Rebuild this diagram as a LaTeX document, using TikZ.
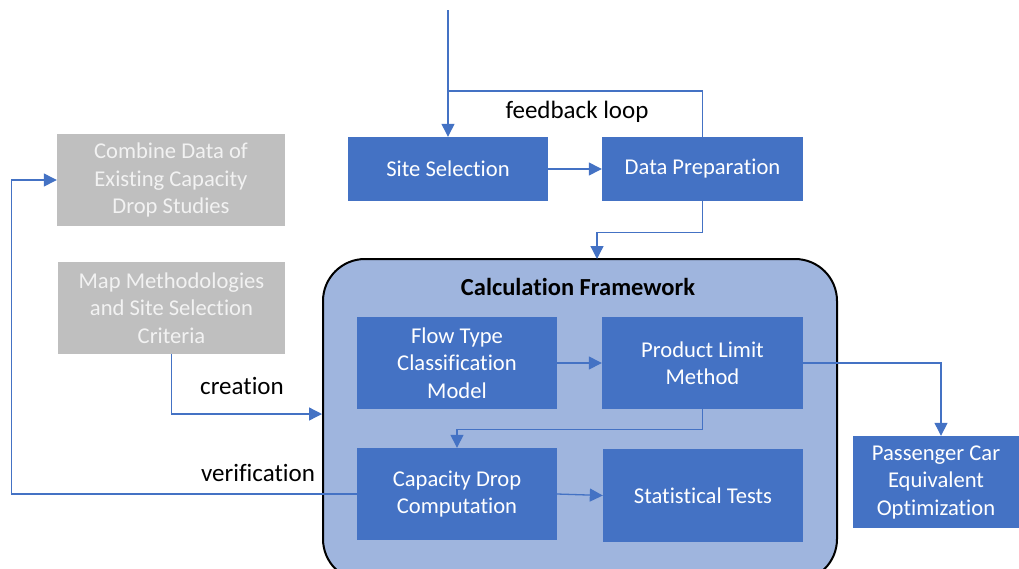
\documentclass[tikz,border=0pt]{standalone}
\usepackage{fontspec}
\setmainfont{Carlito}[Ligatures=NoCommon]
\usetikzlibrary{arrows.meta,calc}
\definecolor{boxblue}{HTML}{4472C4}
\definecolor{framefill}{HTML}{9FB5DE}
\definecolor{greybox}{HTML}{BFBFBF}
\definecolor{greytext}{HTML}{F2F2F2}
\tikzset{
  base/.style={rectangle, inner sep=0pt, align=center,
    font=\fontsize{22.6}{27.5}\selectfont},
  bluebox/.style={base, fill=boxblue, text=white},
  greyblock/.style={base, fill=greybox, text=greytext},
  conn/.style={draw=boxblue, line width=1.3pt},
  arr/.style={conn, -{Triangle[length=13pt,width=13pt]}},
  lbl/.style={font=\fontsize{25}{30}\selectfont, text=black, inner sep=0pt}
}
\begin{document}
\begin{tikzpicture}[x=1pt,y=-1pt]
\useasboundingbox (0,0) rectangle (1019,568);
\clip (0,0) rectangle (1019,568);

% container of the calculation steps
\node[rectangle, draw=black, line width=2pt, fill=framefill, rounded corners=42pt,
      minimum width=514pt, minimum height=322pt] (frame) at (580,420) {};
\node[font=\fontsize{24.5}{29}\selectfont\bfseries, inner sep=0pt] (title) at (578,287) {Calculation Framework};

% boxes
\node[bluebox, minimum width=200pt, minimum height=64pt] (site) at (448,169) {Site Selection};
\node[bluebox, minimum width=201pt, minimum height=64pt] (prep) at (702.5,169) {Data Preparation};
\node[greyblock, minimum width=228pt, minimum height=92pt] (combine) at (171,180) {Combine Data of\\Existing Capacity\\Drop Studies};
\node[greyblock, minimum width=227pt, minimum height=92pt] (mapm) at (171.5,308) {Map Methodologies\\and Site Selection\\Criteria};
\node[bluebox, minimum width=200pt, minimum height=92pt] (flow) at (457,363) {Flow Type\\Classification\\Model};
\node[bluebox, minimum width=201pt, minimum height=92pt] (plm) at (702.5,363) {Product Limit\\Method};
\node[bluebox, minimum width=200pt, minimum height=92pt] (cdc) at (457,494) {Capacity Drop\\Computation};
\node[bluebox, minimum width=200pt, minimum height=93pt] (stat) at (703,495.5) {Statistical Tests};
\node[bluebox, minimum width=166pt, minimum height=92pt] (pce) at (936,482) {Passenger Car\\Equivalent\\Optimization};

% free ends and junctions
\coordinate (start) at (448,10);
\coordinate (fbj) at (448,91);
\coordinate (fin) at (597,259);

% connectors
\draw[arr] (start) -- (site.north);
\draw[conn] (prep.north) |- (fbj);
\draw[arr] (site.east) -- (prep.west);
\draw[arr] (prep.south) -- ++(0,31) -| (fin);
\draw[arr] (mapm.south) |- ([yshift=6pt]frame.west);
\draw[arr] (cdc.west) -- ++(-345,0) |- (combine.west);
\draw[arr] (flow.east) -- (plm.west);
\draw[arr] (plm.south) -- ++(0,20) -| (cdc.north);
\draw[arr] (cdc.east) -- (stat.west);
\draw[arr] (plm.east) -| ([xshift=5pt]pce.north);

% labels
\node[lbl] (fbl) at (577,112) {feedback loop};
\node[lbl] (crl) at (242,386) {creation};
\node[lbl] (vfl) at (258,473) {verification};
\end{tikzpicture}
\end{document}
